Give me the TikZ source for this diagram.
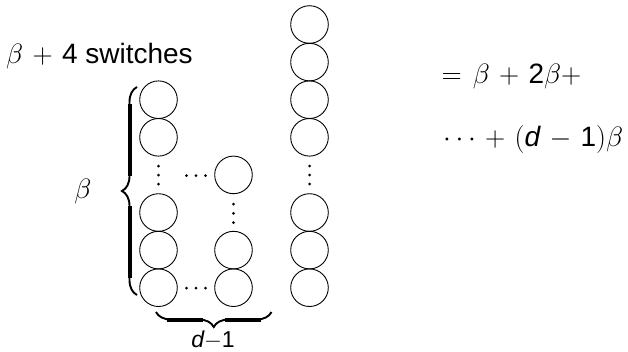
\RequirePackage{fix-cm}
\documentclass[tikz,border=0pt]{standalone}
\usepackage{amsmath}
\usepackage{fontspec}
\setmainfont{Liberation Sans}
\usetikzlibrary{decorations.pathreplacing}
\medmuskip=6mu
\thickmuskip=7mu
\begin{document}
\begin{tikzpicture}[x=1pt,y=-1pt,
  sw/.style={circle, draw, line width=0.9pt, minimum size=37.6pt, inner sep=0pt},
  bigtext/.style={font=\fontsize{28}{33}\selectfont, inner sep=0pt},
  bracestroke/.style={decorate, decoration={brace, amplitude=15pt}, line width=1.9pt},
  bracebar/.style={line width=4pt}]
\useasboundingbox (0,0) rectangle (628,351);
% column 1
\foreach \n/\y in {1/99.7,2/137.3,3/212.5,4/250.1,5/287.7}
  \node[sw] (a\n) at (158.5,\y) {};
% column 2
\foreach \n/\y in {1/174.9,2/250.1,3/287.7}
  \node[sw] (b\n) at (233.5,\y) {};
% column 3
\foreach \n/\y in {1/24.5,2/62.1,3/99.7,4/137.3,5/212.5,6/250.1,7/287.7}
  \node[sw] (c\n) at (309.5,\y) {};
% vertical dots
\foreach \y in {166,175,184} {\fill (158.5,\y) circle (1.5); \fill (309.5,\y) circle (1.5);}
\foreach \y in {204,213.3,222.6} \fill (233.5,\y) circle (1.5);
% horizontal dots
\foreach \x in {186.5,196,205.5} {\fill (\x,175.5) circle (1.5); \fill (\x,288) circle (1.5);}
% left brace
\draw[bracestroke] (137,295) -- (137,87);
\draw[bracebar] (129.5,104) -- (129.5,176);
\draw[bracebar] (129.5,206) -- (129.5,278);
% bottom brace
\draw[bracestroke] (271.5,312) -- (156,312);
\draw[bracebar] (167,319.5) -- (203,319.5);
\draw[bracebar] (225,319.5) -- (261,319.5);
% texts
\node[bigtext, anchor=base west] (title) at (6,63.5) {$\beta + \text{4}$ switches};
\node[bigtext, anchor=base west] (eq1) at (441.5,83) {$= \beta + \text{2}\beta +$};
\node[bigtext, anchor=base west] (eq2) at (443,146) {$\cdots + (\textit{d} - \text{1})\beta$};
\node[bigtext] (betalbl) at (83,191) {$\beta$};
\node[font=\fontsize{23}{28}\selectfont, inner sep=0pt, anchor=base] (dlbl) at (213,347) {$\textit{d}{-}\text{1}$};
\end{tikzpicture}
\end{document}
